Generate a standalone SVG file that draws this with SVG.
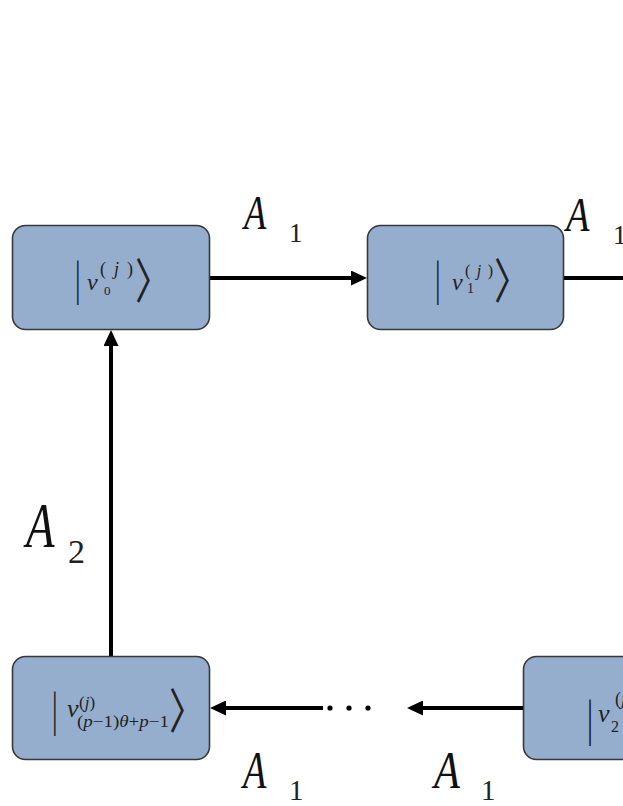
<svg xmlns="http://www.w3.org/2000/svg" width="623" height="806" viewBox="0 0 623 806">
<style>
.node{fill:#95AECE;stroke:#383838;stroke-width:1.6}
.edge{stroke:#000;stroke-width:4;fill:none}
.lbl{font-family:"Liberation Serif","Times New Roman",serif;font-style:italic;fill:#111}
.sub{font-family:"Liberation Serif","Times New Roman",serif;fill:#222}
.m{font-family:"Liberation Serif","Times New Roman",serif;fill:#222}
.mi{font-family:"Liberation Serif","Times New Roman",serif;font-style:italic;fill:#222}
.br{font-family:"Noto Sans CJK SC",sans-serif;fill:#222}
</style>
<defs>
<marker id="ah" viewBox="0 0 16 15" refX="8" refY="7.5" markerWidth="16" markerHeight="15" markerUnits="userSpaceOnUse" orient="auto">
<path d="M0,0 L16,7.5 L0,15 Z" fill="#000"/>
</marker>
</defs>
<rect width="623" height="806" fill="#fff"/>
<g id="connectors">
<line class="edge" x1="210" y1="278" x2="359" y2="278" marker-end="url(#ah)"/>
<line class="edge" x1="563" y1="278" x2="630" y2="278"/>
<line class="edge" x1="111" y1="656" x2="111" y2="338" marker-end="url(#ah)"/>
<line class="edge" x1="523" y1="708" x2="415" y2="708" marker-end="url(#ah)"/>
<line class="edge" x1="323" y1="708" x2="218" y2="708" marker-end="url(#ah)"/>
<circle cx="330" cy="708" r="2.6" fill="#000"/>
<circle cx="349" cy="708" r="2.6" fill="#000"/>
<circle cx="368" cy="708" r="2.6" fill="#000"/>
</g>
<g id="labels">
<text class="lbl" font-size="48" transform="translate(244,229) scale(0.76,1)">A</text>
<text class="sub" font-size="27" x="289" y="242">1</text>
<text class="lbl" font-size="48" transform="translate(566,231) scale(0.8,1)">A</text>
<text class="sub" font-size="27" x="613" y="244">1</text>
<text class="lbl" font-size="63" transform="translate(26,547) scale(0.74,1)">A</text>
<text class="sub" font-size="34" x="68" y="563">2</text>
<text class="lbl" font-size="53" transform="translate(243,788) scale(0.72,1)">A</text>
<text class="sub" font-size="29" x="289" y="800">1</text>
<text class="lbl" font-size="53" transform="translate(434,788) scale(0.8,1)">A</text>
<text class="sub" font-size="29" x="481" y="800">1</text>
</g>
<g id="node-v0">
<rect class="node" x="12.5" y="225.5" width="197" height="104" rx="13"/>
<text class="m" font-size="28" transform="translate(75,295) scale(1,1.7)">|</text>
<text class="mi" font-size="24" x="87" y="290">v</text>
<text class="m" font-size="18" x="100" y="275" textLength="33" lengthAdjust="spacing">(<tspan font-style="italic">j</tspan>)</text>
<text class="m" font-size="13" x="104" y="295">0</text>
<text class="br" font-size="30" transform="translate(135,298) scale(1.2,1.6)">〉</text>
</g>
<g id="node-v1">
<rect class="node" x="367.5" y="225.5" width="196" height="104" rx="13"/>
<text class="m" font-size="28" transform="translate(435,295) scale(1,1.7)">|</text>
<text class="mi" font-size="24" x="452" y="290">v</text>
<text class="m" font-size="16" x="465" y="276" textLength="28" lengthAdjust="spacing">(<tspan font-style="italic">j</tspan>)</text>
<text class="m" font-size="14" x="467" y="293">1</text>
<text class="br" font-size="30" transform="translate(494,298) scale(1.2,1.6)">〉</text>
</g>
<g id="node-vlast">
<rect class="node" x="12.5" y="656.5" width="197" height="103" rx="13"/>
<text class="m" font-size="28" transform="translate(52,726) scale(1,1.7)">|</text>
<text class="mi" font-size="26" x="67" y="717">v</text>
<text class="m" font-size="17" x="79" y="708">(<tspan font-style="italic">j</tspan>)</text>
<text class="m" font-size="16" x="77" y="727" textLength="92" lengthAdjust="spacingAndGlyphs">(<tspan font-style="italic">p</tspan>−1)<tspan font-style="italic">θ</tspan>+<tspan font-style="italic">p</tspan>−1</text>
<text class="br" font-size="30" transform="translate(169,728) scale(1.2,1.6)">〉</text>
</g>
<g id="node-v2">
<rect class="node" x="523.5" y="656.5" width="197" height="103" rx="13"/>
<text class="m" font-size="30" transform="translate(587,735) scale(1,1.7)">|</text>
<text class="mi" font-size="26" x="598" y="722">v</text>
<text class="m" font-size="18" x="615" y="705">(<tspan font-style="italic">j</tspan>)</text>
<text class="m" font-size="16" x="611" y="732">2</text>
<text class="br" font-size="30" transform="translate(655,730) scale(1.2,1.6)">〉</text>
</g>
</svg>
